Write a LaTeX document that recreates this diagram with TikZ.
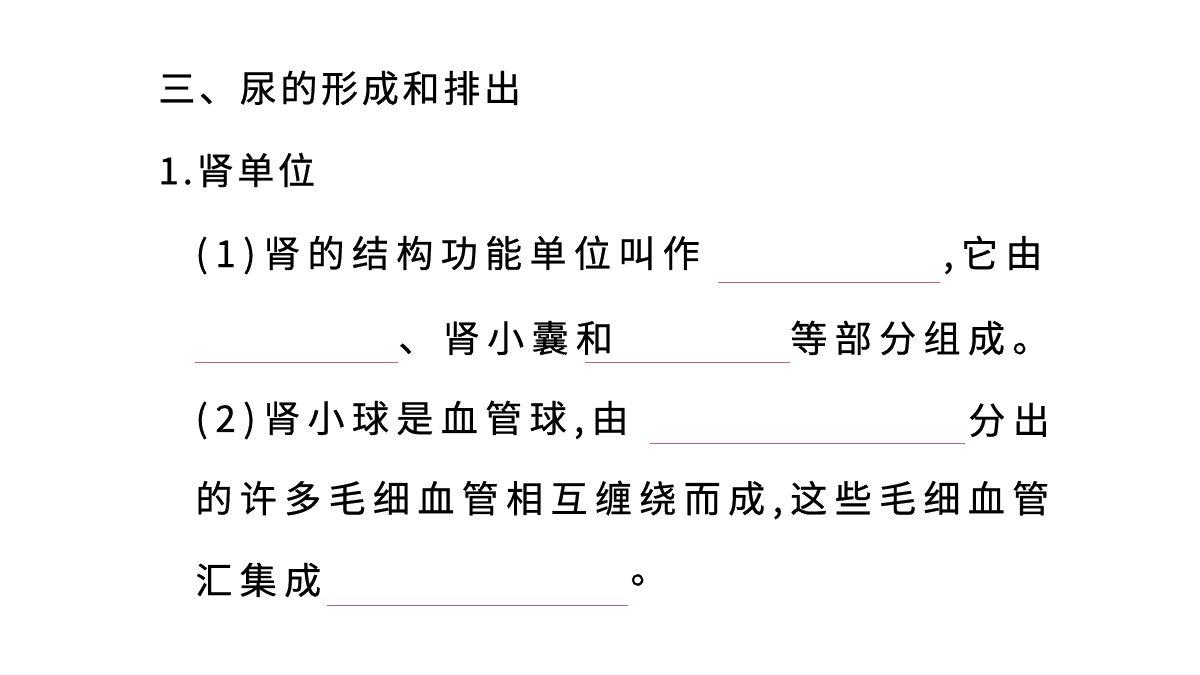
\documentclass[tikz,border=0pt]{standalone}
\usepackage{fontspec}
\newfontfamily\cjk[LetterSpace=20,FakeBold=0.6]{Noto Sans CJK SC}
\newfontfamily\cjkn[LetterSpace=10,FakeBold=0.6]{Noto Sans CJK SC}
\definecolor{blank}{RGB}{205,90,140}
\begin{document}
\begin{tikzpicture}[x=0.5pt,y=-0.5pt,
  t/.style={anchor=west,inner sep=0pt,font=\cjk\fontsize{18.5}{20}\selectfont},
  tn/.style={anchor=west,inner sep=0pt,font=\cjkn\fontsize{18.5}{20}\selectfont},
  bl/.style={draw=blank,line width=0.5pt}]
\useasboundingbox[fill=white] (0,0) rectangle (1200,675);
\node[tn] (l1) at (158,88) {三、尿的形成和排出};
\node[tn] (l2) at (158,170) {1.肾单位};
\node[t] (l3a) at (195,255) {(1)肾的结构功能单位叫作};
\coordinate (b1s) at (718,282); \coordinate (b1e) at (940,282);
\draw[bl] (b1s) -- (b1e);
\node[t] (l3b) at (943,255) {,它由};
\coordinate (b2s) at (195,362); \coordinate (b2e) at (398,362);
\draw[bl] (b2s) -- (b2e);
\node[t] (l4a) at (398,338) {、肾小囊和};
\coordinate (b3s) at (585,362); \coordinate (b3e) at (790,362);
\draw[bl] (b3s) -- (b3e);
\node[t] (l4b) at (790,338) {等部分组成。};
\node[t] (l5a) at (195,420) {(2)肾小球是血管球,由};
\coordinate (b4s) at (650,443); \coordinate (b4e) at (965,443);
\draw[bl] (b4s) -- (b4e);
\node[t] (l5b) at (968,420) {分出};
\node[t] (l6) at (195,500) {的许多毛细血管相互缠绕而成,这些毛细血管};
\node[t] (l7a) at (195,580) {汇集成};
\coordinate (b5s) at (327,605); \coordinate (b5e) at (628,605);
\draw[bl] (b5s) -- (b5e);
\node[t] (l7b) at (630,580) {。};
\end{tikzpicture}
\end{document}
